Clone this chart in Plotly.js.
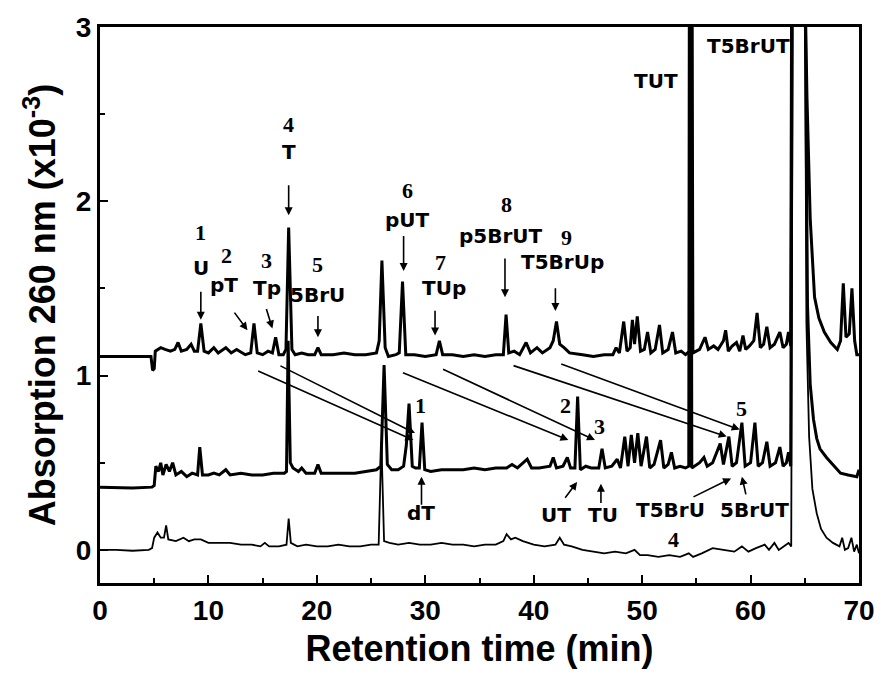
<!DOCTYPE html>
<html>
<head>
<meta charset="utf-8">
<script src="https://cdn.plot.ly/plotly-3.0.1.min.js"></script>
<style>html,body{margin:0;padding:0;background:#fff;}#chart{width:881px;height:674px;}</style>
</head>
<body>
<div id="chart"></div>
<script>
// ---- Trace 1 (top chromatogram) ----
var timeTop = [0,2,4.7,4.85,5.0,5.1,5.6,6.0,6.5,6.9,7.2,7.5,8.0,8.4,8.7,9.0,9.3,9.6,10.0,10.5,10.9,11.6,12.1,12.6,13.4,13.9,14.2,14.5,15.0,15.5,15.9,16.2,16.5,16.9,17.15,17.4,17.7,18.0,18.6,19.2,19.8,20.1,20.4,21.5,22.5,23.5,24.5,25.5,25.75,26.0,26.3,26.6,27.3,27.6,27.9,28.2,29.0,30.0,31.0,31.3,31.6,32.5,33.5,34.5,35.5,36.5,37.2,37.45,37.7,38.2,38.7,39.3,39.7,40.3,40.8,41.5,41.8,42.1,42.4,42.8,43.3,44.5,45.5,46.5,47.3,47.6,47.9,48.3,48.6,48.9,49.1,49.3,49.55,49.85,50.2,50.5,50.8,51.2,51.6,51.9,52.4,52.8,53.1,53.6,54.0,54.38,54.45,54.6,54.68,55.3,55.8,56.1,56.6,57.0,57.5,57.7,57.95,58.3,58.7,59.0,59.3,59.55,59.9,60.3,60.6,60.9,61.2,61.5,61.8,62.2,62.7,63.0,63.3,63.5,63.7,63.8,64.95,65.2,65.5,65.9,66.3,66.8,67.4,68.0,68.3,68.55,68.8,69.1,69.35,69.6,69.8,70];
var absTop = [1.11,1.11,1.11,1.03,1.04,1.14,1.16,1.15,1.14,1.15,1.19,1.14,1.15,1.18,1.14,1.14,1.30,1.14,1.13,1.16,1.13,1.16,1.13,1.15,1.12,1.13,1.30,1.13,1.12,1.14,1.13,1.22,1.12,1.12,1.15,1.85,1.15,1.12,1.13,1.12,1.12,1.16,1.12,1.12,1.13,1.12,1.12,1.13,1.20,1.66,1.16,1.11,1.12,1.13,1.54,1.12,1.12,1.11,1.12,1.20,1.12,1.12,1.11,1.12,1.11,1.12,1.12,1.35,1.13,1.14,1.12,1.19,1.13,1.16,1.13,1.16,1.20,1.31,1.18,1.16,1.13,1.12,1.11,1.12,1.12,1.16,1.13,1.31,1.14,1.16,1.32,1.18,1.34,1.14,1.15,1.25,1.13,1.15,1.29,1.13,1.15,1.25,1.13,1.14,1.12,1.14,3.5,3.5,1.13,1.15,1.22,1.15,1.17,1.15,1.20,1.26,1.14,1.17,1.19,1.14,1.23,1.15,1.17,1.20,1.36,1.16,1.18,1.28,1.16,1.18,1.25,1.16,1.18,1.25,1.17,3.5,3.5,2.6,1.9,1.45,1.33,1.25,1.19,1.15,1.2,1.53,1.22,1.24,1.50,1.2,1.12,1.12];

// ---- Trace 2 (middle chromatogram) ----
var timeMid = [0,3,4.8,5.0,5.15,5.4,5.6,5.8,6.1,6.4,6.7,7.0,7.5,8.0,8.5,9.0,9.2,9.45,10.0,10.5,11.0,11.6,12.0,13.0,14.0,15.0,16.0,17.0,17.2,17.35,17.55,17.8,18.3,18.6,19.0,19.8,20.1,20.4,21.5,22.5,23.5,24.5,25.5,25.9,26.2,26.5,26.9,27.5,28.0,28.25,28.5,28.8,29.1,29.45,29.7,29.95,30.5,31.5,32.5,33.5,34.5,35.5,36.5,37.5,38.0,38.5,39.4,39.8,40.5,41.5,41.8,42.1,42.7,43.1,43.4,43.8,44.05,44.3,44.8,45.3,46.0,46.3,46.6,47.2,47.7,48.0,48.4,48.7,49.0,49.3,49.6,49.9,50.4,50.7,51.1,51.7,52.0,52.4,52.7,53.0,53.5,54.0,54.3,54.36,54.5,54.58,55.3,55.7,56.0,56.5,57.2,57.5,58.0,58.3,58.7,59.2,59.5,60.0,60.4,60.7,61.1,61.5,61.8,62.3,62.7,63.0,63.3,63.5,63.7,63.85,65.0,65.25,65.5,65.8,66.1,66.4,67.0,67.6,68.3,69.0,69.8,70];
var absMid = [0.36,0.355,0.36,0.37,0.48,0.45,0.50,0.43,0.49,0.45,0.50,0.43,0.45,0.42,0.44,0.43,0.59,0.43,0.43,0.44,0.43,0.46,0.43,0.44,0.43,0.43,0.44,0.44,0.45,1.2,0.5,0.47,0.45,0.47,0.44,0.44,0.49,0.44,0.44,0.44,0.44,0.45,0.46,0.48,1.06,0.49,0.46,0.46,0.48,0.6,0.84,0.48,0.47,0.47,0.73,0.46,0.45,0.46,0.46,0.46,0.47,0.46,0.47,0.47,0.49,0.47,0.52,0.47,0.47,0.48,0.53,0.47,0.48,0.53,0.47,0.47,0.88,0.46,0.48,0.47,0.47,0.58,0.47,0.48,0.52,0.47,0.65,0.48,0.66,0.5,0.67,0.48,0.65,0.47,0.49,0.63,0.47,0.49,0.56,0.47,0.48,0.47,0.48,3.5,3.5,0.47,0.5,0.53,0.48,0.5,0.61,0.49,0.65,0.48,0.50,0.73,0.48,0.5,0.73,0.48,0.5,0.62,0.48,0.5,0.59,0.48,0.5,0.56,0.48,3.5,3.5,1.4,0.95,0.75,0.64,0.58,0.53,0.49,0.44,0.43,0.42,0.46];

// ---- Trace 3 (bottom chromatogram) ----
var timeBot = [0.3,1.5,3.0,4.5,4.8,5.0,5.3,5.6,5.9,6.1,6.3,7.0,7.7,8.2,8.7,9.3,10.0,11.0,12.0,13.0,14.0,14.8,15.2,15.6,16.5,17.2,17.4,17.6,18.2,19.0,20.0,21.0,22.0,23.0,24.0,25.0,25.7,25.95,26.2,26.7,27.5,28.5,29.5,30.5,31.5,32.5,33.5,34.5,35.5,36.5,37.2,37.5,37.9,38.3,39.0,40.0,41.0,42.0,42.4,42.8,43.5,44.5,45.5,46.5,47.5,48.5,49.3,49.8,50.5,51.5,52.5,53.5,54.3,54.7,55.5,56.5,57.5,58.5,59.2,59.8,60.5,61.3,61.7,62.2,62.6,63.0,63.5,63.75,63.9,65.0,65.15,65.4,65.7,66.1,66.5,67.0,67.6,68.2,68.45,68.7,69.0,69.3,69.55,69.8,70];
var absBot = [0.0,0.0,-0.005,0.0,0.01,0.07,0.1,0.07,0.07,0.14,0.06,0.05,0.07,0.05,0.06,0.06,0.04,0.04,0.04,0.03,0.03,0.02,0.04,0.02,0.02,0.03,0.18,0.04,0.02,0.03,0.02,0.02,0.03,0.02,0.02,0.03,0.03,0.62,0.05,0.04,0.03,0.04,0.03,0.03,0.04,0.03,0.03,0.02,0.03,0.03,0.05,0.09,0.06,0.07,0.05,0.03,0.02,0.03,0.07,0.03,0.02,0.0,-0.01,-0.02,-0.01,-0.02,0.0,-0.03,-0.03,-0.04,-0.03,-0.04,-0.02,-0.04,-0.02,0.01,0.0,-0.01,0.02,-0.01,0.01,0.03,0.0,0.04,0.0,0.02,0.04,0.02,3.5,3.5,1.3,0.65,0.35,0.21,0.12,0.07,0.04,0.02,0.07,0.0,0.01,0.07,-0.01,0.03,-0.02];

// ---- Peak labels (text, x, y, font kind) ----
var labelText = ["1","U","2","pT","3","Tp","4","T","5","5BrU","6","pUT","7","TUp","8","p5BrUT","9","T5BrUp","TUT","T5BrUT",
                 "1","dT","2","3","5","UT","TU","T5BrU","5BrUT","4"];
var labelX    = [9.3,9.3,11.7,11.4,15.4,15.4,17.4,17.4,20.1,20.1,28.4,28.4,31.4,31.75,37.5,37.0,43.0,42.7,51.25,59.85,
                 29.6,29.65,42.9,46.1,59.2,42.1,46.4,52.6,60.4,52.9];
var labelY    = [1.82,1.62,1.69,1.52,1.66,1.50,2.44,2.28,1.64,1.46,2.06,1.89,1.65,1.50,1.98,1.80,1.79,1.65,2.69,2.89,
                 0.83,0.21,0.83,0.71,0.81,0.20,0.20,0.23,0.23,0.06];
var labelSerif= [1,0,1,0,1,0,1,0,1,0,1,0,1,0,1,0,1,0,0,0,
                 1,0,1,1,1,0,0,0,0,1];

// ---- Arrows: tail (x,y) -> head (x,y) ----
var arrowTailX = [9.3,12.3,15.3,17.4,20.1,28.0,30.9,37.35,42.0, 14.45,16.5,27.8,31.5,38.0,42.4, 29.65,42.8,46.2,54.6,59.6];
var arrowTailY = [1.49,1.37,1.39,2.10,1.35,1.81,1.38,1.68,1.51, 1.03,1.06,1.02,1.04,1.06,1.07, 0.25,0.29,0.26,0.30,0.31];
var arrowHeadX = [9.3,13.6,15.9,17.4,20.1,28.0,30.9,37.35,42.0, 28.9,29.05,43.2,45.65,57.8,59.0, 29.65,44.0,46.2,58.2,59.2];
var arrowHeadY = [1.32,1.26,1.27,1.92,1.22,1.60,1.23,1.45,1.37, 0.63,0.67,0.63,0.63,0.65,0.69, 0.42,0.39,0.38,0.41,0.42];

var xTickVals = [0,10,20,30,40,50,60,70];
var yTickVals = [0,1,2,3];

var SANS = "Liberation Sans, Arial, sans-serif";
var LABEL = "DejaVu Sans, Liberation Sans, sans-serif";
var SERIF = "Liberation Serif, Times New Roman, serif";

var traces = [
  {x: timeTop, y: absTop, mode: "lines", line: {color: "#000", width: 3}, hoverinfo: "skip"},
  {x: timeMid, y: absMid, mode: "lines", line: {color: "#000", width: 3}, hoverinfo: "skip"},
  {x: timeBot, y: absBot, mode: "lines", line: {color: "#000", width: 1.8}, hoverinfo: "skip"}
];

var annotations = [];
for (var i = 0; i < labelText.length; i++) {
  annotations.push({
    x: labelX[i], y: labelY[i], xref: "x", yref: "y", text: labelText[i], showarrow: false,
    font: labelSerif[i] ? {family: SERIF, size: 22, color: "#000", weight: "bold"}
                        : {family: LABEL, size: 20, color: "#000", weight: "bold"},
    xanchor: "center", yanchor: "middle"
  });
}
for (var j = 0; j < arrowTailX.length; j++) {
  annotations.push({
    x: arrowHeadX[j], y: arrowHeadY[j], ax: arrowTailX[j], ay: arrowTailY[j],
    xref: "x", yref: "y", axref: "x", ayref: "y", text: "", showarrow: true,
    arrowhead: 2, arrowsize: 1, arrowwidth: 1.6, arrowcolor: "#000", standoff: 0, startstandoff: 0
  });
}

var layout = {
  width: 881, height: 674,
  margin: {l: 100, r: 22, t: 27, b: 91},
  paper_bgcolor: "#fff", plot_bgcolor: "#fff",
  showlegend: false,
  font: {family: SANS, color: "#000"},
  xaxis: {
    range: [0, 70], tickvals: xTickVals, ticks: "inside", ticklen: 8, tickwidth: 2, tickcolor: "#000",
    minor: {dtick: 5, ticks: "inside", ticklen: 5, tickwidth: 2, tickcolor: "#000", showgrid: false},
    showline: true, linewidth: 3, linecolor: "#000", mirror: true, showgrid: false, zeroline: false,
    tickfont: {family: SANS, size: 28, color: "#000", weight: "bold"},
    title: {text: "Retention time (min)", font: {family: SANS, size: 36, color: "#000", weight: "bold"}, standoff: 12}
  },
  yaxis: {
    range: [-0.19, 3], tickvals: yTickVals, ticks: "inside", ticklen: 8, tickwidth: 2, tickcolor: "#000",
    minor: {dtick: 0.5, ticks: "inside", ticklen: 5, tickwidth: 2, tickcolor: "#000", showgrid: false},
    showline: true, linewidth: 3, linecolor: "#000", mirror: true, showgrid: false, zeroline: false,
    tickfont: {family: SANS, size: 28, color: "#000", weight: "bold"},
    title: {text: "Absorption 260 nm (x10<sup>-3</sup>)", font: {family: SANS, size: 36, color: "#000", weight: "bold"}, standoff: 10}
  },
  annotations: annotations
};

Plotly.newPlot("chart", traces, layout, {displayModeBar: false, staticPlot: true});
</script>
</body>
</html>
